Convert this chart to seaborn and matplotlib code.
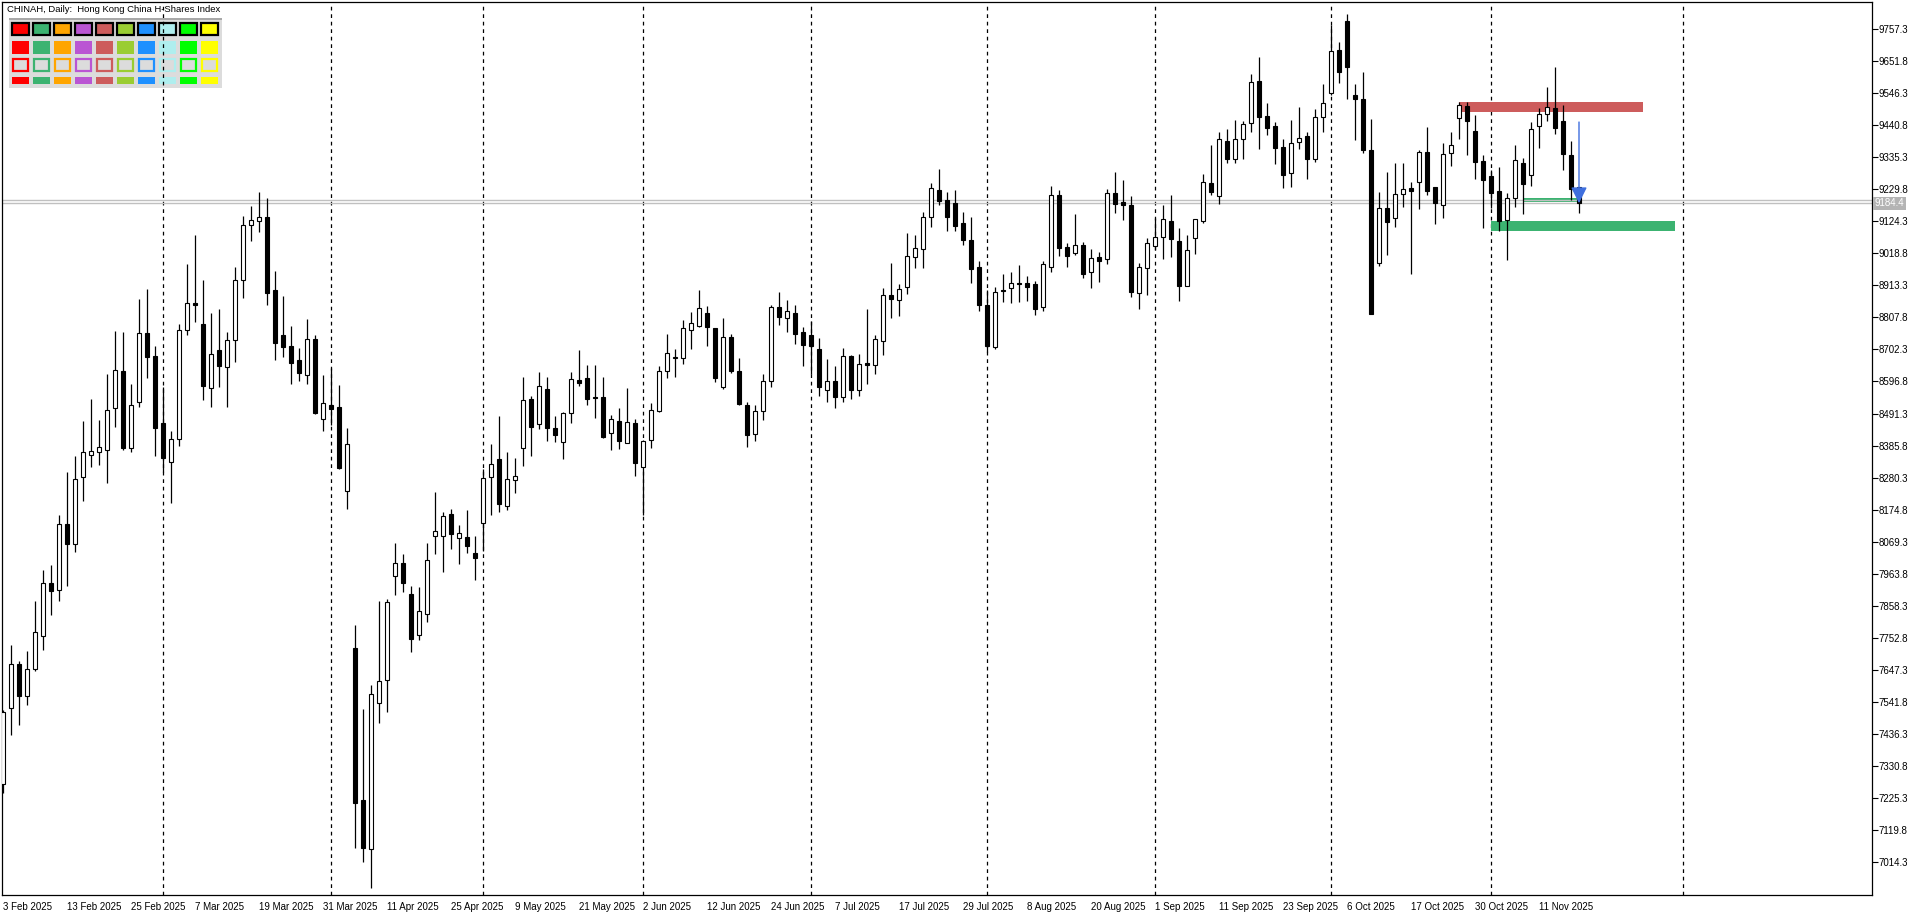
import numpy as np
import pandas as pd
import matplotlib
matplotlib.use("Agg")
import matplotlib.pyplot as plt
from matplotlib.patches import Rectangle
import seaborn as sns

# CHINAH daily candles, 3 Feb 2025 .. 18 Nov 2025
opens = [7270, 7519, 7665, 7559, 7648, 7758, 7932, 7910, 8128, 8060,
         8283, 8353, 8363, 8371, 8509, 8632, 8378, 8528, 8756, 8681,
         8460, 8330, 8407, 8768, 8854, 8787, 8577, 8700, 8646, 8735,
         8931, 9111, 9125, 9140, 8900, 8749, 8714, 8667, 8619, 8737,
         8472, 8518, 8512, 8235, 7718, 7219, 7055, 7538, 7614, 7955,
         7998, 7898, 7760, 7829, 8086, 8086, 8159, 8081, 8083, 8030,
         8129, 8281, 8341, 8188, 8273, 8379, 8539, 8456, 8572, 8443,
         8398, 8492, 8602, 8608, 8546, 8546, 8428, 8465, 8393, 8459,
         8316, 8403, 8501, 8630, 8673, 8673, 8765, 8781, 8821, 8772,
         8578, 8742, 8630, 8520, 8425, 8500, 8600, 8841, 8807, 8821,
         8759, 8750, 8703, 8570, 8600, 8545, 8680, 8570, 8657, 8650,
         8731, 8881, 8864, 8907, 9008, 9035, 9138, 9227, 9194, 9185,
         9118, 9063, 8973, 8848, 8712, 8900, 8904, 8923, 8923, 8917,
         8843, 8975, 9210, 9039, 9019, 9046, 8957, 9006, 9000, 9217,
         9187, 9179, 8887, 8970, 9042, 9072, 9126, 9060, 8910, 9069,
         9125, 9250, 9207, 9390, 9329, 9395, 9448, 9587, 9471, 9438,
         9370, 9285, 9385, 9406, 9331, 9470, 9549, 9689, 9785, 9540,
         9528, 9360, 8986, 9168, 9135, 9214, 9233, 9255, 9352, 9237,
         9180, 9349, 9464, 9505, 9422, 9323, 9274, 9225, 9128, 9200,
         9316, 9276, 9438, 9477, 9497, 9455, 9343, 9238]
highs = [7515, 7727, 7676, 7709, 7873, 7975, 7993, 8158, 8297, 8350,
         8466, 8539, 8470, 8621, 8763, 8760, 8588, 8870, 8902, 8714,
         8579, 8433, 8787, 8984, 9078, 8932, 8822, 8836, 8759, 8975,
         9142, 9175, 9220, 9200, 8960, 8880, 8779, 8708, 8802, 8749,
         8618, 8641, 8585, 8443, 7793, 7516, 7595, 7873, 7879, 8064,
         8028, 7923, 7919, 8064, 8232, 8168, 8178, 8124, 8174, 8087,
         8310, 8391, 8484, 8364, 8345, 8613, 8549, 8628, 8612, 8483,
         8497, 8627, 8701, 8651, 8651, 8612, 8486, 8509, 8575, 8472,
         8404, 8525, 8648, 8753, 8704, 8799, 8826, 8898, 8846, 8772,
         8805, 8752, 8673, 8530, 8520, 8620, 8849, 8891, 8865, 8848,
         8775, 8797, 8739, 8670, 8648, 8706, 8685, 8687, 8835, 8749,
         8905, 8986, 8917, 9086, 9080, 9154, 9250, 9296, 9220, 9227,
         9155, 9138, 8994, 8900, 8909, 8951, 8958, 8981, 8944, 8928,
         8994, 9241, 9227, 9052, 9149, 9057, 9034, 9024, 9231, 9286,
         9261, 9208, 8988, 9071, 9136, 9179, 9211, 9102, 9080, 9131,
         9281, 9375, 9420, 9430, 9459, 9455, 9610, 9665, 9514, 9452,
         9395, 9459, 9502, 9419, 9496, 9577, 9772, 9715, 9808, 9577,
         9617, 9462, 9220, 9286, 9316, 9316, 9254, 9360, 9436, 9237,
         9382, 9418, 9517, 9517, 9475, 9342, 9294, 9303, 9218, 9376,
         9333, 9452, 9498, 9569, 9633, 9508, 9389, 9238]
lows = [7240, 7433, 7466, 7529, 7643, 7711, 7827, 7874, 7923, 8036,
        8204, 8314, 8323, 8261, 8446, 8370, 8363, 8513, 8609, 8352,
        8297, 8197, 8384, 8751, 8793, 8536, 8513, 8579, 8513, 8661,
        8873, 9060, 9090, 8850, 8666, 8679, 8588, 8597, 8588, 8491,
        8434, 8452, 8310, 8178, 7058, 7014, 6927, 7472, 7506, 7894,
        7904, 7705, 7745, 7803, 8027, 7970, 8046, 7995, 8033, 7941,
        8039, 8157, 8168, 8173, 8230, 8318, 8352, 8440, 8401, 8397,
        8341, 8461, 8582, 8519, 8476, 8411, 8371, 8374, 8393, 8286,
        8157, 8379, 8495, 8609, 8613, 8655, 8703, 8778, 8715, 8594,
        8571, 8624, 8519, 8380, 8400, 8470, 8580, 8783, 8761, 8720,
        8648, 8620, 8550, 8530, 8510, 8530, 8540, 8550, 8590, 8620,
        8685, 8807, 8814, 8885, 8972, 8970, 9107, 9180, 9094, 9094,
        9047, 8922, 8830, 8695, 8705, 8860, 8857, 8860, 8863, 8817,
        8830, 8959, 9010, 8975, 9015, 8939, 8906, 8926, 8985, 9153,
        9130, 8876, 8837, 8883, 9030, 9002, 9008, 8863, 8910, 9018,
        9118, 9211, 9181, 9316, 9318, 9331, 9420, 9364, 9410, 9315,
        9236, 9239, 9363, 9264, 9320, 9420, 9541, 9582, 9528, 9393,
        9351, 8818, 8979, 9014, 9107, 9173, 8951, 9165, 9212, 9116,
        9137, 9307, 9397, 9344, 9263, 9104, 9167, 9094, 8997, 9173,
        9150, 9242, 9367, 9456, 9414, 9294, 9195, 9153]
closes = [7506, 7665, 7559, 7648, 7771, 7932, 7906, 8128, 8060, 8274,
          8363, 8367, 8380, 8502, 8634, 8376, 8519, 8756, 8677, 8442,
          8343, 8407, 8768, 8854, 8849, 8581, 8687, 8649, 8732, 8931,
          9111, 9130, 9140, 8890, 8723, 8709, 8657, 8626, 8737, 8493,
          8525, 8505, 8313, 8392, 7207, 7058, 7566, 7608, 7871, 7998,
          7932, 7749, 7842, 8008, 8104, 8153, 8095, 8096, 8056, 8016,
          8278, 8325, 8194, 8275, 8284, 8536, 8448, 8582, 8445, 8421,
          8492, 8605, 8593, 8540, 8542, 8414, 8472, 8402, 8462, 8329,
          8400, 8502, 8630, 8690, 8676, 8772, 8788, 8838, 8775, 8607,
          8742, 8632, 8524, 8420, 8500, 8600, 8841, 8810, 8828, 8752,
          8718, 8715, 8580, 8600, 8545, 8680, 8570, 8653, 8650, 8736,
          8881, 8868, 8901, 9009, 9036, 9138, 9233, 9193, 9140, 9110,
          9064, 8969, 8849, 8715, 8893, 8896, 8920, 8919, 8909, 8837,
          8983, 9210, 9038, 9012, 9046, 8952, 9003, 8995, 9217, 9183,
          9177, 8893, 8973, 9052, 9072, 9131, 9065, 8913, 9030, 9131,
          9253, 9220, 9395, 9329, 9395, 9444, 9583, 9470, 9433, 9368,
          9278, 9382, 9398, 9331, 9467, 9514, 9685, 9618, 9634, 9527,
          9360, 8820, 9168, 9124, 9214, 9230, 9226, 9352, 9226, 9184,
          9347, 9375, 9507, 9456, 9321, 9262, 9219, 9127, 9200, 9326,
          9249, 9428, 9478, 9500, 9433, 9348, 9232, 9184.4]

hk_holidays = ["2025-04-04", "2025-04-18", "2025-04-21", "2025-05-01", "2025-05-05",
               "2025-07-01", "2025-10-01", "2025-10-07", "2025-10-29"]

price_ticks = [7014.3, 7119.8, 7225.3, 7330.8, 7436.3, 7541.8, 7647.3, 7752.8, 7858.3,
               7963.8, 8069.3, 8174.8, 8280.3, 8385.8, 8491.3, 8596.8, 8702.3, 8807.8,
               8913.3, 9018.8, 9124.3, 9229.8, 9335.3, 9440.8, 9546.3, 9651.8, 9757.3]

bid_price = 9184.4
ask_price = 9194.4

# supply / demand boxes: start date, length in bars, low, high
red_zone = ["2025-10-27", 23, 9486, 9518]
green_zone = ["2025-11-03", 23, 9094, 9125]
small_zone = ["2025-11-07", "2025-11-18", 9188, 9203]
arrow_from = 9452

palette = ["#FF0000", "#3CB371", "#FFA500", "#BA55D3", "#CD5C5C",
           "#9ACD32", "#1E90FF", "#AFEEEE", "#00FF00", "#FFFF00"]


def main():
    dates = pd.bdate_range("2025-02-03", "2025-11-18", freq="C", holidays=hk_holidays)
    df = pd.DataFrame({"date": dates, "open": opens, "high": highs,
                       "low": lows, "close": closes})
    df["x"] = np.arange(len(df))
    df["up"] = df["close"] >= df["open"]

    sns.set_theme(style="white")
    plt.rcParams["font.family"] = ["Liberation Sans", "DejaVu Sans"]

    W, H = 1920, 915
    fig = plt.figure(figsize=(W / 100, H / 100), dpi=100)
    ax = fig.add_axes([2 / W, 20 / H, 1870 / W, 893 / H])
    ax.set_facecolor("white")

    # wicks + bodies
    ax.vlines(df["x"], df["low"], df["high"], color="black", lw=0.9, zorder=3)
    body_lo = df[["open", "close"]].min(axis=1)
    body_h = (df["close"] - df["open"]).abs().clip(lower=3)
    ax.bar(df["x"], body_h, bottom=body_lo, width=0.5,
           color=np.where(df["up"], "white", "black"),
           edgecolor="black", linewidth=0.8, zorder=4)

    # month separators (plus next month, extended by calendar days)
    month_first = df.groupby(df["date"].dt.to_period("M"))["x"].min().values[1:]
    last = df["date"].iloc[-1]
    nxt = (last + pd.offsets.MonthBegin(1))
    future_x = df["x"].iloc[-1] + (nxt - last).days
    for xv in list(month_first) + [future_x]:
        ax.axvline(xv, color="black", lw=0.9, ls=(0, (3, 3)), zorder=1)

    # bid / ask lines
    for p in (bid_price, ask_price):
        ax.axhline(p, color="#C0C0C0", lw=1.0, zorder=2)

    # zones
    date_idx = {d: i for i, d in enumerate(df["date"])}
    for zone, col in ((red_zone, "#CD5C5C"), (green_zone, "#3CB371")):
        x0 = date_idx[pd.Timestamp(zone[0])]
        ax.add_patch(Rectangle((x0, zone[2]), zone[1], zone[3] - zone[2],
                               facecolor=col, edgecolor="none", zorder=2.5))
    sx0 = date_idx[pd.Timestamp(small_zone[0])]
    sx1 = date_idx[pd.Timestamp(small_zone[1])]
    ax.add_patch(Rectangle((sx0, small_zone[2]), sx1 - sx0, small_zone[3] - small_zone[2],
                           facecolor="#3CB371", edgecolor="none", zorder=1.8))

    # signal arrow on the last bar
    ax.annotate("", xy=(df["x"].iloc[-1], bid_price), xytext=(df["x"].iloc[-1], arrow_from),
                arrowprops=dict(arrowstyle="-|>,head_length=0.7,head_width=0.35",
                                color="#3F6FDE", lw=1.0, shrinkA=0, shrinkB=0,
                                mutation_scale=14), zorder=6)

    # axes scales (8 px per bar)
    ax.set_xlim(-0.125, 233.625)
    ax.set_ylim(6904.3, 9847.6)

    xt = df["x"].values[::8]
    ax.set_xticks(xt)
    ax.set_xticklabels([f"{d.day} {d:%b %Y}" for d in df["date"].iloc[::8]])
    for lbl in ax.get_xticklabels():
        lbl.set_ha("left")
    ax.tick_params(axis="x", direction="out", length=4, width=0.8,
                   labelsize=7, pad=1, colors="black")

    ax.yaxis.tick_right()
    ax.set_yticks(price_ticks)
    ax.set_yticklabels([f"{p:.1f}" for p in price_ticks])
    ax.tick_params(axis="y", direction="out", length=4, width=0.8,
                   labelsize=7, pad=1, colors="black")
    for sp in ax.spines.values():
        sp.set_color("black")
        sp.set_linewidth(0.9)
        sp.set_visible(True)

    # current price tag
    ax.text(1.0015, bid_price, f"{bid_price:.1f}", transform=ax.get_yaxis_transform(),
            ha="left", va="center", fontsize=7, color="white",
            bbox=dict(boxstyle="square,pad=0.15", facecolor="#B4B4B4", edgecolor="none"),
            zorder=10, clip_on=False)

    # title + colour panel in pixel coordinates
    def fr(x, y, w, h, **kw):
        r = Rectangle((x / W, 1 - (y + h) / H), w / W, h / H,
                      transform=fig.transFigure, clip_on=False, **kw)
        ax.add_patch(r)

    fig.text(7 / W, 1 - 10 / H, "CHINAH, Daily:  Hong Kong China H-Shares Index",
             ha="left", va="center", fontsize=6.8, color="black")
    fr(9, 18, 213, 70, facecolor="#DCDCDC", edgecolor="none", zorder=0.5)
    fr(9, 18, 213, 2, facecolor="#A8A8A8", edgecolor="none", zorder=0.6)
    for i, c in enumerate(palette):
        x = 12 + 21 * i
        fr(x, 23, 17, 12, facecolor=c, edgecolor="black", linewidth=1.6, zorder=0.7)
        fr(x, 41, 17, 13, facecolor=c, edgecolor="none", zorder=0.7)
        fr(x + 1, 59, 15, 12, facecolor="#DCDCDC", edgecolor=c, linewidth=1.6, zorder=0.7)
        fr(x, 77, 17, 7, facecolor=c, edgecolor="none", zorder=0.7)

    fig.savefig("out.png", dpi=100, facecolor="white")


if __name__ == "__main__":
    main()
